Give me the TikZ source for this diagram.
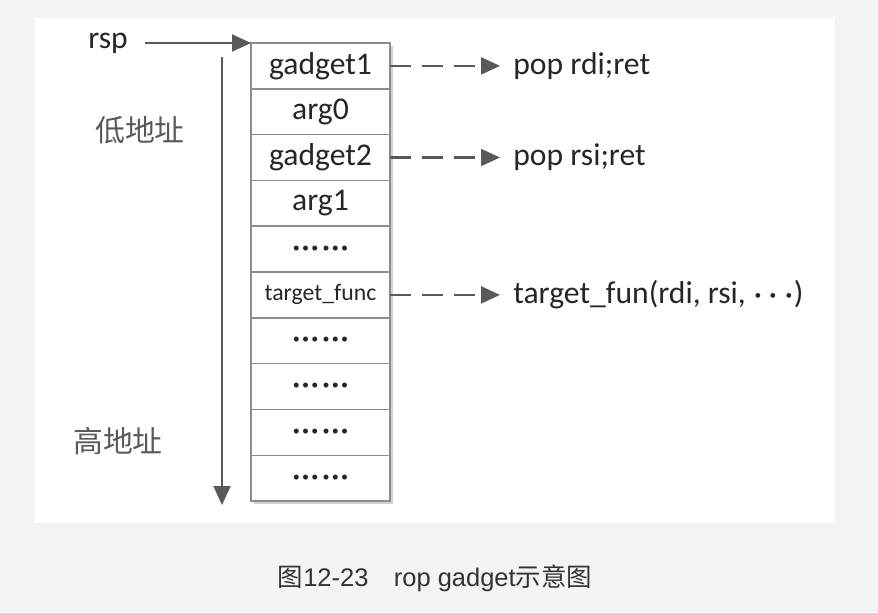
\documentclass[tikz,border=0pt]{standalone}
\usepackage{fontspec}
\setmainfont{Carlito}
\newfontfamily\cjk{Noto Sans CJK SC}
\newfontfamily\capsans{Liberation Sans}
\usetikzlibrary{positioning, arrows.meta}

\definecolor{pagegray}{HTML}{F4F4F4}
\definecolor{linegray}{HTML}{595959}
\definecolor{boxgray}{HTML}{8C8C8C}
\definecolor{inkgray}{HTML}{262626}

\tikzset{
  cell/.style={draw=boxgray, line width=0.8pt, fill=white, minimum width=2.78cm,
    minimum height=0.916cm, inner sep=0pt, outer sep=0pt, text=inkgray,
    font=\fontsize{18}{20}\selectfont},
  note/.style={inner xsep=0.26cm, inner ysep=0pt, text=inkgray, anchor=west,
    font=\fontsize{18}{20}\selectfont},
  side/.style={text=linegray, font=\cjk\fontsize{17}{20}\selectfont},
  ptr/.style={draw=linegray, line width=1.2pt, -{Triangle[length=0.38cm, width=0.34cm]}},
  link/.style={ptr, dash pattern=on 0.42cm off 0.22cm}
}
\newcommand{\onedot}{\textbullet\hspace{0.045cm}}
\DeclareRobustCommand{\dotrow}{{\fontsize{8}{8}\selectfont
  \onedot\onedot\onedot\hspace{0.04cm}\onedot\onedot\textbullet}}

\begin{document}
\begin{tikzpicture}
  \fill[pagegray] (0,0) rectangle (17.56,-12.24);
  \useasboundingbox (0,0) rectangle (17.56,-12.24);
  \fill[white] (0.7,-0.36) rectangle (16.7,-10.46);

  % shadow of the stack
  \fill[black!18] (5.08,-0.92) rectangle (7.86,-10.08);

  \node[cell] at (6.41,-1.318) (g1) {gadget1};
  \node[cell, below=0pt of g1] (a0) {arg0};
  \node[cell, below=0pt of a0] (g2) {gadget2};
  \node[cell, below=0pt of g2] (a1) {arg1};
  \node[cell, below=0pt of a1] (d1) {\dotrow};
  \node[cell, below=0pt of d1, font=\fontsize{13.5}{16}\selectfont] (tf) {target\_func};
  \node[cell, below=0pt of tf] (d2) {\dotrow};
  \node[cell, below=0pt of d2] (d3) {\dotrow};
  \node[cell, below=0pt of d3] (d4) {\dotrow};
  \node[cell, below=0pt of d4] (d5) {\dotrow};

  \node[text=inkgray, font=\fontsize{18}{20}\selectfont] at (2.16,-0.86) (rsp) {rsp};
  \draw[ptr] ([xshift=0.22cm]rsp.east) -- (rsp -| g1.west);

  \coordinate (lo) at (4.44,-1.14);
  \coordinate (hi) at (4.44,-10.1);
  \draw[ptr] (lo) -- (hi);
  \node[side] at (2.8,-2.6) (low) {低地址};
  \node[side] at (2.36,-8.82) (high) {高地址};

  \node[note, right=2.2cm of g1] (n1) {pop rdi;ret};
  \node[note, right=2.2cm of g2] (n2) {pop rsi;ret};
  \node[note, right=2.2cm of tf] (n3) {target\_fun(rdi, rsi, {\boldmath$\cdots$})};
  \draw[link] (g1.east) -- (n1.west);
  \draw[link] (g2.east) -- (n2.west);
  \draw[link] (tf.east) -- (n3.west);

  \node[text=black!80, font=\fontsize{14.5}{17}\selectfont] at (8.7,-11.56) (cap)
    {{\cjk 图}\capsans 12-23\quad rop gadget{\cjk 示意图}};
\end{tikzpicture}
\end{document}
